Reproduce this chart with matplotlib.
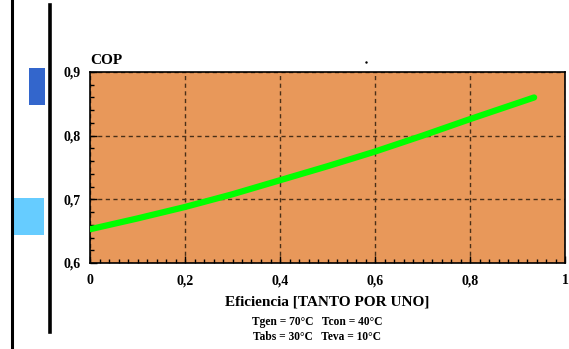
import matplotlib.pyplot as plt
from matplotlib.patches import Rectangle
from matplotlib.lines import Line2D
from matplotlib.ticker import MultipleLocator, FuncFormatter

# Datos
eficiencia = [0.0, 0.1, 0.2, 0.3, 0.4, 0.5, 0.6, 0.7, 0.8, 0.935]
cop = [0.653, 0.670, 0.688, 0.708, 0.730, 0.752, 0.775, 0.800, 0.826, 0.860]

x_ticks = [0, 0.2, 0.4, 0.6, 0.8, 1]
y_ticks = [0.6, 0.7, 0.8, 0.9]

plt.rcParams['font.family'] = ['Liberation Serif', 'DejaVu Serif']
plt.rcParams['font.weight'] = 'bold'

W, H = 569, 349
fig = plt.figure(figsize=(W / 100, H / 100), dpi=100)

# Decoraciones del marco (barras verticales y rectángulos azules)
fig.add_artist(Line2D([11.5 / W, 11.5 / W], [0, 1], color='black', lw=2.2))
fig.add_artist(Line2D([50 / W, 50 / W], [1 - 5 / H, 1 - 332 / H], color='black', lw=2.6))
fig.add_artist(Rectangle((29 / W, 1 - 105 / H), 16 / W, 37 / H, color='#3366CC', lw=0))
fig.add_artist(Rectangle((13 / W, 1 - 235 / H), 31 / W, 37 / H, color='#66CCFF', lw=0))
fig.add_artist(Line2D([366 / W], [1 - 62 / H], marker='s', ms=0.7, color='black', lw=0))

ax = fig.add_axes([90 / W, 86 / H, 475 / W, 191 / H])
ax.set_facecolor('#E8985A')
ax.plot(eficiencia, cop, color='#00FF00', lw=4.5, solid_capstyle='round', zorder=3)

ax.set_xlim(0, 1)
ax.set_ylim(0.6, 0.9)
ax.set_xticks(x_ticks)
ax.set_yticks(y_ticks)
ax.xaxis.set_minor_locator(MultipleLocator(0.02))
ax.yaxis.set_minor_locator(MultipleLocator(0.02))
coma = FuncFormatter(lambda v, p: ('%g' % v).replace('.', ','))
ax.xaxis.set_major_formatter(coma)
ax.yaxis.set_major_formatter(coma)
ax.tick_params(which='both', direction='in', top=False, right=False,
               labelsize=10, width=1, color='black')
ax.tick_params(which='major', length=5)
ax.tick_params(which='minor', length=3)
ax.tick_params(axis='x', pad=8)
ax.tick_params(axis='y', pad=7)
for lab in ax.get_xticklabels() + ax.get_yticklabels():
    lab.set_fontweight('bold')

ax.grid(True, which='major', linestyle=(0, (3, 2.5)), color='#4a3018', lw=1)
for s in ax.spines.values():
    s.set_linewidth(1.2)

ax.text(0, 1.025, 'COP', transform=ax.transAxes, fontsize=11,
        fontweight='bold', ha='left', va='bottom')
ax.set_xlabel('Eficiencia [TANTO POR UNO]', fontsize=11, fontweight='bold', labelpad=6)

fig.text(317 / W, 1 - 322 / H, 'Tgen = 70°C   Tcon = 40°C', fontsize=8.3,
         fontweight='bold', ha='center', va='center')
fig.text(317 / W, 1 - 337.5 / H, 'Tabs = 30°C   Teva = 10°C', fontsize=8.3,
         fontweight='bold', ha='center', va='center')

fig.savefig('out.png', dpi=100)
